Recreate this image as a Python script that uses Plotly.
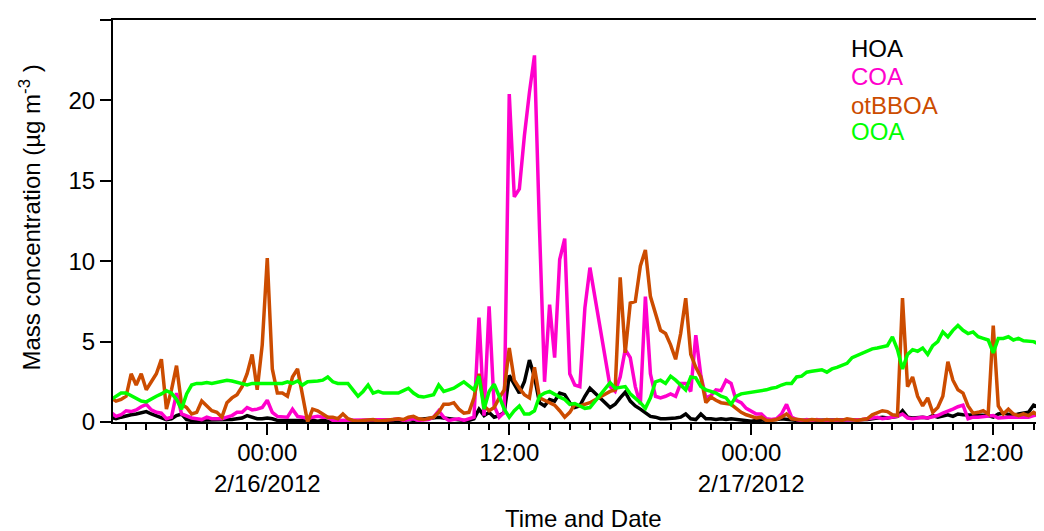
import pandas as pd
import plotly.graph_objects as go

# 15-minute samples starting 2/15/2012 16:15 (None = missing data)
start_time = "2012-02-15 16:15"
n_points = 186

hoa = [
    0.3, 0.2, 0.3, 0.4, 0.45, 0.5, 0.55, 0.65, 0.5, 0.4,
    0.3, 0.15, 0.2, 0.4, 0.5, 0.15, 0.1, 0.1, 0.1, 0.15,
    0.1, 0.1, 0.1, 0.15, 0.15, 0.2, 0.25, 0.4, 0.3, 0.2,
    0.2, 0.25, 0.2, 0.1, 0.1, 0.1, 0.15, 0.1, 0.1, 0.05,
    0.1, 0.05, 0.1, 0.05, 0.05, 0.05, 0.05, 0.05, 0.05, 0.05,
    0.1, 0.05, 0.05, 0.1, 0.05, 0.05, 0.1, 0.1, 0.1, 0.15,
    0.1, 0.15, 0.2, 0.2, 0.25, 0.3, 0.25, 0.2, 0.2, 0.1,
    0.1, 0.1, 0.2, 0.8, 0.4, 0.6, 0.3, 0.4, 0.6, 2.9,
    2.3, 1.8, 2.5, 3.85, 2.8, 1.2, 1.0, 1.4, 1.3, 1.8,
    1.7, 1.2, 0.9, 1.0, 1.6, 2.1, None, None, None, 0.9,
    1.1, 1.5, 1.85, 1.3, 1.0, 0.8, 0.6, 0.35, 0.3, 0.2,
    0.2, 0.2, 0.25, 0.3, 0.5, 0.2, 0.15, 0.5, 0.2, 0.2,
    0.15, 0.2, 0.15, 0.2, 0.15, 0.1, 0.1, 0.05, 0.1, 0.1,
    0.1, 0.1, 0.15, 0.2, 0.15, 0.1, 0.1, 0.1, 0.1, 0.1,
    0.1, 0.1, 0.1, 0.1, 0.1, 0.1, 0.1, 0.15, 0.1, 0.15,
    0.15, 0.2, 0.25, 0.3, 0.25, 0.3, 0.35, 0.7, 0.3, 0.25,
    0.3, 0.3, 0.25, 0.4, 0.3, 0.4, 0.45, 0.35, 0.5, 0.45,
    0.45, 0.4, 0.4, 0.4, 0.4, 0.3, 0.5, 0.55, 0.45, 0.4,
    0.5, 0.55, 0.6, 1.05, 0.9, 1.35,
]

coa = [
    0.6, 0.35, 0.45, 0.7, 0.65, 0.75, 0.95, 1.1, 0.75, 0.6,
    0.55, 0.2, 0.3, 1.8, 0.5, 0.35, 0.25, 0.2, 0.15, 0.3,
    0.2, 0.2, 0.2, 0.3, 0.4, 0.6, 0.6, 0.9, 0.75, 0.8,
    0.9, 1.35, 0.6, 0.35, 0.3, 0.3, 0.8, 0.35, 0.3, 0.2,
    0.3, 0.35, 0.3, 0.3, 0.1, 0.1, 0.1, 0.1, 0.1, 0.1,
    0.15, 0.1, 0.1, 0.15, 0.1, 0.1, 0.15, 0.2, 0.1, 0.15,
    0.2, 0.1, 0.1, 0.15, 0.3, 0.7, 0.3, 0.1, 0.15, 0.2,
    0.1, 0.2, 0.3, 6.5, 0.4, 7.2, 1.0, 0.3, 0.6, 20.4,
    14.0, 14.5, 17.8, 20.5, 22.8, 12.0, 2.5, 7.3, 4.0, 10.1,
    11.4, 3.0, 2.3, 2.2, 7.1, 9.6, None, None, None, 2.2,
    1.9, 2.8, 4.5, 4.0, 2.2, 1.1, 7.8, 3.0, 1.6, 1.5,
    1.6, 1.75, 1.6, 2.4, 2.4, 1.9, 5.4, 2.9, 1.5, 1.65,
    2.0, 1.95, 2.6, 2.4, 1.35, 1.2, 0.85, 0.7, 0.5, 0.5,
    0.2, 0.15, 0.2, 0.5, 1.1, 0.3, 0.15, 0.1, 0.15, 0.1,
    0.15, 0.1, 0.1, 0.15, 0.1, 0.15, 0.1, 0.15, 0.1, 0.15,
    0.2, 0.25, 0.3, 0.2, 0.25, 0.3, 0.35, 0.5, 0.25, 0.2,
    0.25, 0.3, 0.25, 0.3, 0.4, 0.55, 0.65, 0.8, 0.95, 1.05,
    0.2, 0.3, 0.3, 0.35, 0.35, 0.4, 0.25, 0.3, 0.3, 0.3,
    0.3, 0.3, 0.3, 0.4, 0.45, 0.5,
]

otbboa = [
    1.5, 1.3, 1.4, 1.6, 3.0, 2.3, 3.0, 2.0, 2.5, 3.0,
    3.9, 0.8, 2.0, 3.5, 1.1, 0.9, 0.5, 0.6, 1.3, 1.0,
    0.7, 0.6, 0.3, 1.2, 1.5, 1.7, 2.2, 3.0, 4.2, 2.0,
    4.8, 10.2, 3.3, 1.8, 1.8, 1.6, 2.8, 3.3, 1.5, 0.0,
    0.8, 0.7, 0.5, 0.3, 0.3, 0.2, 0.5, 0.2, 0.1, 0.05,
    0.1, 0.1, 0.15, 0.05, 0.1, 0.1, 0.15, 0.2, 0.15, 0.3,
    0.35, 0.2, 0.15, 0.2, 0.3, 0.6, 1.1, 1.1, 1.2, 0.8,
    0.55, 0.6, 1.5, 3.0, 1.0, 0.7, 0.9, 1.5, 2.0, 4.6,
    2.6, 2.1, 1.7, 1.5, 3.4, 1.5, 1.35, 1.2, 1.05, 0.7,
    0.3, 0.6, 1.1, 1.0, 1.1, 1.2, None, None, None, 1.9,
    2.0, 9.0, 4.3, 7.4, 7.5, 9.7, 10.7, 7.8, 6.8, 5.7,
    5.5, 4.8, 3.9, 5.5, 7.7, 4.2, 3.4, 2.8, 1.2, 1.55,
    1.35, 1.2, 1.15, 1.1, 0.85, 0.6, 0.45, 0.35, 0.25, 0.3,
    0.1, 0.1, 0.15, 0.3, 0.5, 0.2, 0.15, 0.1, 0.1, 0.15,
    0.1, 0.1, 0.15, 0.1, 0.15, 0.1, 0.2, 0.15, 0.1, 0.15,
    0.2, 0.45, 0.6, 0.7, 0.65, 0.45, 0.4, 7.7, 2.2, 2.8,
    1.6, 1.0, 1.5, 0.6, 0.9, 1.6, 3.75, 2.6, 2.0, 1.8,
    1.0, 0.55, 0.6, 0.7, 0.5, 6.0, 1.0, 0.5, 0.8, 0.5,
    0.4, 0.5, 0.4, 0.6, 0.4, 0.7,
]

ooa = [
    1.4, 1.6, 1.8, 1.8, 1.65, 1.5, 1.3, 1.25, 1.45, 1.6,
    1.75, 1.95, 1.8, 1.4, 0.8, 1.75, 2.3, 2.4, 2.4, 2.45,
    2.4, 2.45, 2.5, 2.6, 2.55, 2.45, 2.35, 2.3, 2.4, 2.4,
    2.4, 2.35, 2.4, 2.35, 2.4, 2.5, 2.4, 2.55, 2.3, 2.5,
    2.5, 2.55, 2.6, 2.8, 2.5, 2.4, 2.4, 2.4, 2.0, 1.6,
    1.9, 2.3, 1.8, 1.9, 1.8, 1.8, 1.85, 1.8, 1.95, 2.1,
    1.8, 1.6, 1.55, 1.6, 1.7, 2.3, 1.9, 2.0, 2.1, 2.3,
    2.5, 2.25, 2.0, 2.85, 0.8, 1.9, 2.35, 1.6, 0.8, 0.3,
    0.7, 1.0, 0.5, 0.5, 0.7, 1.6, 1.8, 1.9, 1.7, 1.55,
    1.4, 1.1, 1.15, 1.0, 0.85, 0.9, None, None, None, 2.45,
    2.1, 2.15, 2.2, 1.75, 1.5, 1.2, 0.85, 1.5, 2.5, 2.6,
    2.4, 2.85, 2.6, 2.3, 2.0, 2.8, 2.75, 2.2, 2.0, 1.9,
    1.8, 1.6, 1.5, 1.1, 1.6, 1.75, 1.8, 1.8, 1.85, 1.9,
    2.0, 2.1, 2.15, 2.3, 2.4, 2.4, 2.8, 2.85, 3.1, 3.15,
    3.2, 3.25, 3.1, 3.3, 3.4, 3.55, 3.65, 4.0, 4.15, 4.3,
    4.4, 4.55, 4.6, 4.65, 4.75, 5.3, 4.5, 3.3, 4.2, 4.5,
    4.4, 4.6, 4.2, 4.75, 5.0, 5.6, 5.3, 5.7, 6.0, 5.7,
    5.5, 5.6, 5.3, 5.2, 5.1, 4.3, 5.2, 5.2, 5.3, 5.1,
    5.2, 5.05, 5.0, 5.0, 4.85, 4.9,
]

tick_vals = ["2012-02-16 00:00", "2012-02-16 12:00", "2012-02-17 00:00", "2012-02-17 12:00"]
tick_text = ["00:00<br>2/16/2012", "12:00", "00:00<br>2/17/2012", "12:00"]

series = [
    ("HOA", hoa, "#000000"),
    ("COA", coa, "#ff00cc"),
    ("otBBOA", otbboa, "#cc4c00"),
    ("OOA", ooa, "#00ff00"),
]

times = pd.date_range(start_time, periods=n_points, freq="15min")
font = "Liberation Sans, Arial, sans-serif"

fig = go.Figure()
for name, values, color in series:
    fig.add_trace(go.Scatter(
        x=times, y=values, mode="lines", name=name,
        connectgaps=True,
        line=dict(color=color, width=3.5)
    ))

# coloured text legend
legend_y = [0.929, 0.859, 0.788, 0.722]
for (name, _, color), ly in zip(series, legend_y):
    fig.add_annotation(
        text=name, xref="paper", yref="paper",
        x=0.791, y=ly, xanchor="left", yanchor="middle",
        showarrow=False, font=dict(size=24, color=color, family=font)
    )

# axis titles
fig.add_annotation(
    text="Time and Date", xref="paper", yref="paper",
    x=0.505, y=-0.2395, xanchor="center", yanchor="middle",
    showarrow=False, font=dict(size=24, family=font, color="black")
)
fig.add_annotation(
    text="Mass concentration (µg m<sup>-3</sup> )", xref="paper", yref="paper",
    x=-0.0902, y=0.5087, xanchor="center", yanchor="middle", textangle=-90,
    showarrow=False, font=dict(size=24, family=font, color="black")
)

# the page body adds an 8px margin, so the figure is shifted by 8px
fig.update_layout(
    width=1036, height=523,
    margin=dict(l=105, r=0, t=11.5, b=108.5),
    plot_bgcolor="white", paper_bgcolor="white",
    showlegend=False,
    font=dict(family=font, size=24, color="black"),
)

fig.update_xaxes(
    range=["2012-02-15 16:21", "2012-02-17 14:31"],
    tickmode="array", tickvals=tick_vals, ticktext=tick_text,
    ticks="outside", ticklen=11, tickwidth=2, tickcolor="black",
    ticklabelstandoff=-3,
    showline=True, linewidth=2, linecolor="black", mirror=True,
    showgrid=False, zeroline=False, automargin=False,
    minor=dict(ticks="outside", ticklen=6, tickwidth=2, tickcolor="black",
               tick0="2012-02-16", dtick=3600000, showgrid=False),
)

fig.update_yaxes(
    range=[0, 25], tickvals=[0, 5, 10, 15, 20, 25],
    ticks="outside", ticklen=11, tickwidth=2, tickcolor="black",
    showline=True, linewidth=2, linecolor="black",
    showgrid=False, zeroline=False, automargin=False,
)

fig.write_html("out.html")
